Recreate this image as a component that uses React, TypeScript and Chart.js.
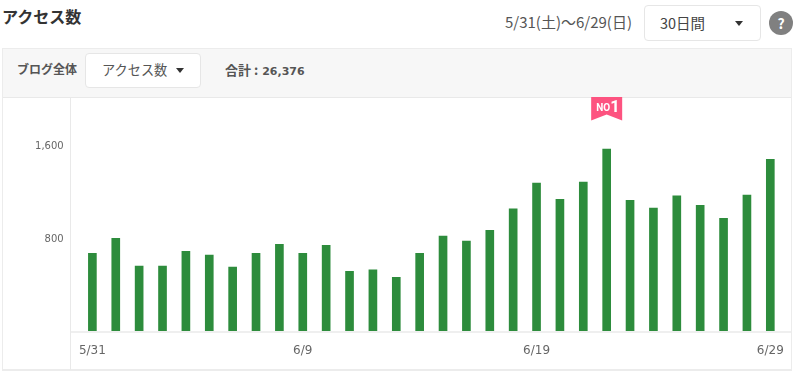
import React, { useEffect, useRef } from "react";
import { Chart, registerables } from "chart.js";

Chart.register(...registerables);

const categories = [
  "5/31", "6/1", "6/2", "6/3", "6/4", "6/5", "6/6", "6/7", "6/8", "6/9",
  "6/10", "6/11", "6/12", "6/13", "6/14", "6/15", "6/16", "6/17", "6/18", "6/19",
  "6/20", "6/21", "6/22", "6/23", "6/24", "6/25", "6/26", "6/27", "6/28", "6/29",
];
const accessValues = [
  675, 803, 567, 567, 692, 661, 558, 675, 752, 675,
  744, 522, 535, 470, 675, 823, 780, 872, 1054, 1275,
  1136, 1284, 1566, 1128, 1062, 1165, 1085, 974, 1173, 1478,
];
const shownDates = ["5/31", "6/9", "6/19", "6/29"];
const yTicks = [800, 1600];

const FONT = '"Noto Sans CJK JP", "Noto Sans", sans-serif';
const TICK_FONT = '"DejaVu Sans", sans-serif';
const TEXT = "#555";

const framePlugin = {
  id: "frame",
  beforeDraw(chart: any) {
    const y = chart.scales.y;
    y._labelItems = null;
    const items = y.getLabelItems();
    items.forEach((item: any) => {
      item.options.translation = [item.options.translation[0], item.options.translation[1] + 1];
    });
  },
  afterDatasetsDraw(chart: any) {
    const { ctx, chartArea, scales } = chart;
    ctx.save();
    ctx.fillStyle = "#efefef";
    ctx.fillRect(71, chartArea.bottom - 1.4, 720, 2);

    const maxIndex = accessValues.indexOf(Math.max(...accessValues));
    const cx = scales.x.getPixelForValue(maxIndex);
    const top = 97;
    const w = 31;
    const h = 23.5;
    ctx.fillStyle = "#fd5380";
    ctx.beginPath();
    ctx.moveTo(cx - w / 2, top);
    ctx.lineTo(cx + w / 2, top);
    ctx.lineTo(cx + w / 2, top + h);
    ctx.lineTo(cx, top + h - 6);
    ctx.lineTo(cx - w / 2, top + h);
    ctx.closePath();
    ctx.fill();
    ctx.fillStyle = "#fff";
    ctx.textBaseline = "alphabetic";
    ctx.textAlign = "left";
    ctx.font = 'bold 10px "Roboto", sans-serif';
    ctx.fillText("NO", cx - 10.5, top + 14);
    ctx.font = 'bold 16.5px "Roboto", sans-serif';
    ctx.fillText("1", cx + 3.5, top + 15);
    ctx.restore();
  },
};

function Caret({ x, y }: { x: number; y: number }) {
  return (
    <div
      style={{
        position: "absolute",
        left: x,
        top: y,
        width: 0,
        height: 0,
        borderLeft: "4.5px solid transparent",
        borderRight: "4.5px solid transparent",
        borderTop: "5px solid #333",
      }}
    />
  );
}

function Label({ x, y, size, bold, color, font, children }: any) {
  return (
    <div
      style={{
        position: "absolute",
        left: x,
        top: y,
        fontSize: size,
        lineHeight: "20px",
        fontWeight: bold ? 700 : 400,
        color: color ?? TEXT,
        fontFamily: font ?? FONT,
        whiteSpace: "nowrap",
      }}
    >
      {children}
    </div>
  );
}

const boxStyle: React.CSSProperties = {
  position: "absolute",
  background: "#fff",
  border: "1px solid #e6e6e6",
  borderRadius: 4,
  boxSizing: "border-box",
};

export default function App() {
  const ref = useRef<HTMLCanvasElement>(null);

  useEffect(() => {
    document.body.style.margin = "0";
    const chart = new Chart(ref.current!, {
      type: "bar",
      plugins: [framePlugin],
      data: {
        labels: categories,
        datasets: [
          {
            data: accessValues,
            backgroundColor: "#2d8c3c",
            barThickness: 8,
            borderWidth: 0,
          },
        ],
      },
      options: {
        animation: false,
        responsive: false,
        layout: { padding: { top: 145, right: 18, left: 0, bottom: 0 } },
        plugins: { legend: { display: false }, tooltip: { enabled: false } },
        scales: {
          x: {
            grid: { display: false },
            border: { display: false },
            afterFit: (s: any) => {
              s.height = 41.6;
            },
            ticks: {
              autoSkip: false,
              maxRotation: 0,
              minRotation: 0,
              padding: 3,
              color: "#666",
              font: { family: TICK_FONT, size: 12 },
              callback: (_v: any, i: number) =>
                shownDates.includes(categories[i]) ? categories[i] : "",
            },
          },
          y: {
            min: 0,
            max: 1600,
            grid: { display: false, drawTicks: false },
            border: { display: false },
            afterFit: (s: any) => {
              s.width = 80.7;
            },
            afterBuildTicks: (s: any) => {
              s.ticks = yTicks.map((value) => ({ value }));
            },
            ticks: {
              padding: 17,
              color: "#666",
              font: { family: TICK_FONT, size: 10 },
              callback: (v: any) => Number(v).toLocaleString("en-US"),
            },
          },
        },
      },
    } as any);
    return () => chart.destroy();
  }, []);

  return (
    <div
      style={{
        position: "fixed",
        left: 0,
        top: 0,
        width: 800,
        height: 374,
        background: "#fff",
        overflow: "hidden",
        fontFamily: FONT,
      }}
    >
      <Label x={2} y={6} size={16} bold color="#333">アクセス数</Label>
      <Label x={505} y={11.5} size={15} color="#555">5/31(土)〜6/29(日)</Label>
      <div style={{ ...boxStyle, left: 644, top: 5, width: 117, height: 36 }} />
      <Label x={660} y={13} size={14.5} color="#444">30日間</Label>
      <Caret x={735} y={20.5} />
      <div
        style={{
          position: "absolute",
          left: 769,
          top: 11,
          width: 24,
          height: 24,
          borderRadius: "50%",
          background: "#808080",
          color: "#fff",
          fontWeight: 700,
          fontSize: 14,
          lineHeight: "24px",
          textAlign: "center",
        }}
      >
        ?
      </div>

      <div
        style={{
          position: "absolute",
          left: 2,
          top: 48,
          width: 790,
          height: 323,
          boxSizing: "border-box",
          border: "1px solid #ececec",
          borderBottomWidth: 2,
        }}
      />
      <div
        style={{
          position: "absolute",
          left: 3,
          top: 49,
          width: 788,
          height: 48,
          background: "#f7f7f7",
          borderBottom: "1px solid #e9e9e9",
        }}
      />
      <div
        style={{
          position: "absolute",
          left: 70,
          top: 97,
          width: 1,
          height: 273,
          background: "#e9e9e9",
        }}
      />
      <Label x={17} y={59} size={12} bold color="#555">ブログ全体</Label>
      <div style={{ ...boxStyle, left: 85, top: 53, width: 116, height: 35 }} />
      <Label x={102} y={60} size={13.2} color="#555">アクセス数</Label>
      <Caret x={176} y={68} />
      <Label x={225} y={60} size={13} bold color="#555">
        合計 :<span style={{ fontFamily: TICK_FONT, fontSize: 11, marginLeft: 4 }}>26,376</span>
      </Label>

      <canvas
        ref={ref}
        width={800}
        height={374}
        style={{ position: "absolute", left: 0, top: 0, width: 800, height: 374 }}
      />
    </div>
  );
}
